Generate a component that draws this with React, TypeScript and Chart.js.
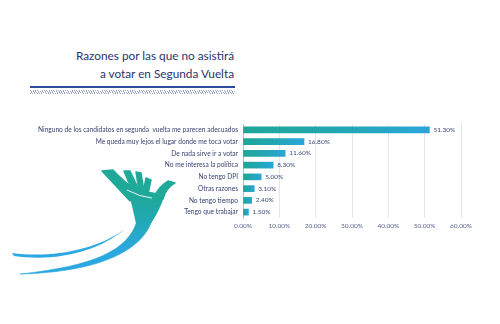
import React, { useEffect, useRef } from "react";
import { Chart, registerables } from "chart.js";

Chart.register(...registerables);

const categories: string[] = [
  "Ninguno de los candidatos en segunda  vuelta me parecen adecuados",
  "Me queda muy lejos el lugar donde me toca votar",
  "De nada sirve ir a votar",
  "No me interesa la política",
  "No tengo DPI",
  "Otras razones",
  "No tengo tiempo",
  "Tengo que trabajar",
];
const values: number[] = [51.3, 16.8, 11.6, 8.3, 5.0, 3.1, 2.4, 1.5];
const xTicks: number[] = [0, 10, 20, 30, 40, 50, 60];
const titleLines: string[] = ["Razones por las que no asistirá", "a votar en Segunda Vuelta"];

const FONT = "Lato, 'Open Sans', sans-serif";

const valueLabels = {
  id: "valueLabels",
  afterDatasetsDraw(chart: any) {
    const ctx = chart.ctx;
    const meta = chart.getDatasetMeta(0);
    ctx.save();
    ctx.font = `6.5px ${FONT}`;
    ctx.fillStyle = "#3e4a7a";
    ctx.textBaseline = "middle";
    ctx.textAlign = "left";
    meta.data.forEach((bar: any, i: number) => {
      ctx.fillText(values[i].toFixed(2) + "%", bar.x + 4, bar.y);
    });
    ctx.restore();
  },
};

function Logo() {
  return (
    <svg width={500} height={324} style={{ position: "absolute", left: 0, top: 0 }}>
      <defs>
        <linearGradient id="lg" x1="0" y1="196" x2="0" y2="250" gradientUnits="userSpaceOnUse">
          <stop offset="0" stopColor="#1ea998" />
          <stop offset="0.5" stopColor="#22a9b6" />
          <stop offset="1" stopColor="#2ca8e0" />
        </linearGradient>
      </defs>
      <g fill="url(#lg)" stroke="url(#lg)" strokeWidth={1.4} strokeLinejoin="round">
        <path d="M102,171 L113,170 Q124,182 137,191 L130,201 Q116,186 102,171 Z" />
        <path d="M124,171 L130,171 L139,190 L133,193 Z" />
        <path d="M136,172 L141,173 L144,191 L139,192 Z" />
        <path d="M146,178 L151,180 L148,194 L143,193 Z" />
        <path d="M168,181 L175,183 Q166,188 163,199 L154,197 Q159,186 168,181 Z" />
        <path d="M128,189 L164,195 Q159,210 151,222 L137,225 Q133,205 128,189 Z" />
        <path d="M153,216 C146,250 100,272 20,274 C95,266 128,250 137,221 Z" strokeWidth={0.6} />
      </g>
      <path d="M12,253 C50,258 95,251 125,229 C98,252 55,262 14,256 Z" fill="#2ca9e2" />
      <path d="M127,190 Q140,197 152,198" stroke="#ffffff" strokeWidth={0.9} fill="none" />
    </svg>
  );
}

export default function App() {
  const ref = useRef<HTMLCanvasElement>(null);
  useEffect(() => {
    if (!ref.current) return;
    const chart = new Chart(ref.current, {
      type: "bar",
      data: {
        labels: categories,
        datasets: [
          {
            data: values,
            barThickness: 6,
            backgroundColor: (c: any) => {
              const ch = c.chart;
              const xs = ch.scales && ch.scales.x;
              if (!xs || c.dataIndex === undefined || c.type !== "data") return "#1fa69a";
              const x0 = xs.getPixelForValue(0);
              const x1 = xs.getPixelForValue(values[c.dataIndex]);
              if (!isFinite(x0) || !isFinite(x1) || x1 - x0 < 1) return "#1fa69a";
              const g = ch.ctx.createLinearGradient(x0, 0, x1, 0);
              g.addColorStop(0, "#1ea697");
              g.addColorStop(0.55, "#22a7b4");
              g.addColorStop(1, "#2ba6dc");
              return g;
            },
            borderWidth: 0,
          },
        ],
      },
      options: {
        indexAxis: "y",
        animation: false,
        responsive: false,
        maintainAspectRatio: false,
        layout: { padding: { top: 14, right: 39, bottom: 0, left: 0 } },
        plugins: { legend: { display: false }, tooltip: { enabled: false } },
        scales: {
          x: {
            min: 0,
            max: 60,
            afterBuildTicks: (s: any) => {
              s.ticks = xTicks.map((v) => ({ value: v }));
            },
            afterFit: (s: any) => {
              s.height = 22;
            },
            ticks: {
              font: { size: 6.5, family: FONT },
              color: "#5a6490",
              padding: 4,
              callback: (v: any) => Number(v).toFixed(2) + "%",
            },
            grid: { color: "#e6e6ea", drawTicks: false, lineWidth: 1 },
            border: { display: false },
          },
          y: {
            afterFit: (s: any) => {
              s.width = 243;
            },
            ticks: {
              font: { size: 6.6, family: FONT },
              color: "#3a4373",
              padding: 5,
              autoSkip: false,
            },
            grid: { display: false, drawTicks: false },
            border: { display: true, color: "#b9bccb", width: 1 },
          },
        },
      },
      plugins: [valueLabels],
    } as any);
    return () => chart.destroy();
  }, []);

  return (
    <div
      style={{
        position: "absolute",
        left: 0,
        top: 0,
        width: 500,
        height: 324,
        background: "#ffffff",
        overflow: "hidden",
        fontFamily: FONT,
      }}
    >
      <div
        style={{
          position: "absolute",
          right: 500 - 234,
          top: 47,
          textAlign: "right",
          color: "#2a346c",
          fontSize: 11.8,
          lineHeight: "18px",
          whiteSpace: "nowrap",
        }}
      >
        {titleLines.map((t, i) => (
          <div key={i}>{t}</div>
        ))}
      </div>
      <div
        style={{
          position: "absolute",
          left: 30,
          top: 86,
          width: 205,
          height: 2,
          background: "#2b4c9b",
        }}
      />
      <div
        style={{
          position: "absolute",
          left: 30,
          top: 90,
          width: 205,
          height: 4,
          background:
            "repeating-linear-gradient(60deg, #9aa6c8 0px, #9aa6c8 0.8px, transparent 0.8px, transparent 2px)",
        }}
      />
      <Logo />
      <canvas
        ref={ref}
        width={500}
        height={130}
        style={{ position: "absolute", left: 0, top: 110, width: 500, height: 130 }}
      />
    </div>
  );
}
